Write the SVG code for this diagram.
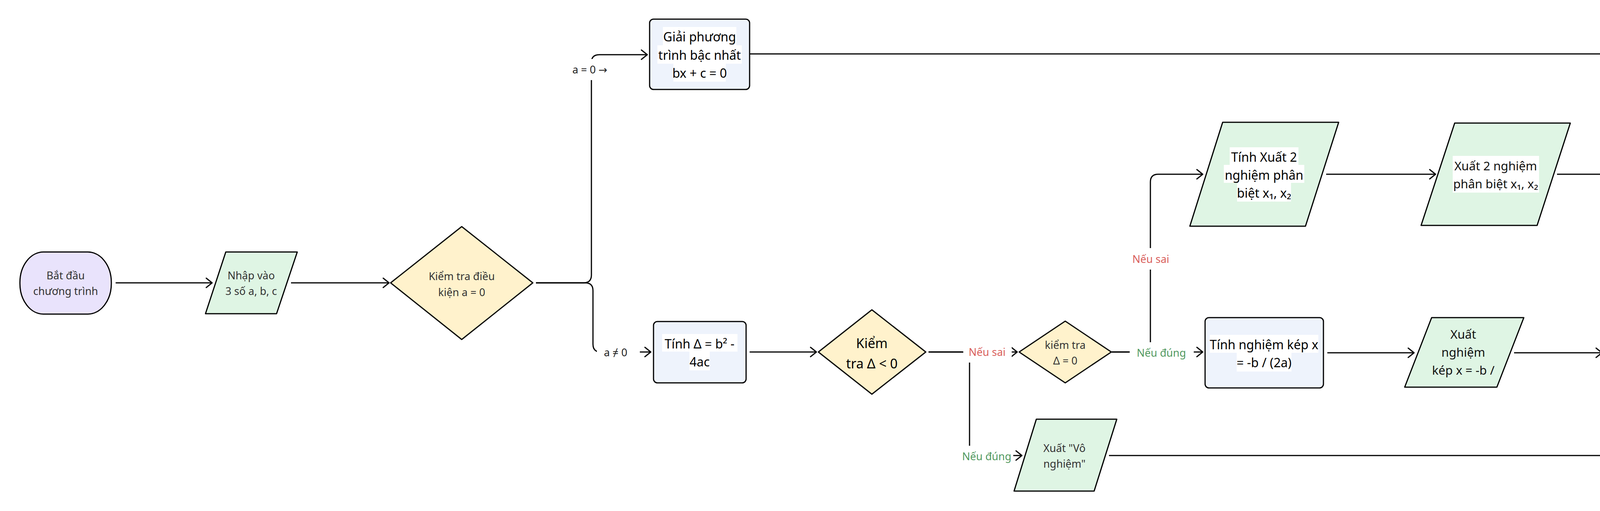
<svg xmlns="http://www.w3.org/2000/svg" width="4394" height="1308" viewBox="0 0 4394 1308">
<defs>
<style>
.sh{stroke:#000;stroke-width:3;stroke-linejoin:round}
.term{fill:#e9e3fc}
.io{fill:#dff5e4}
.dec{fill:#fff2cc}
.proc{fill:#eef3fc}
.edge{fill:none;stroke:#000;stroke-width:3}
.t{font-family:"Noto Sans","Open Sans","DejaVu Sans",sans-serif;text-anchor:middle}
.s27{font-size:27px;fill:#333}
.s31{font-size:31px;fill:#111}
.s32{font-size:32px;fill:#000}
.s34{font-size:34px;fill:#000}
.bg{fill:#fff}
.red{fill:#d95f5c}
.green{fill:#52995f}
.lab{fill:#222}
</style>
<marker id="ah" viewBox="0 0 20 30" refX="18" refY="15" markerWidth="20" markerHeight="30" orient="auto" markerUnits="userSpaceOnUse">
<path d="M3,3 L18,15 L3,27" fill="none" stroke="#000" stroke-width="3" stroke-linecap="round" stroke-linejoin="round"/>
</marker>
</defs>
<rect width="4394" height="1308" fill="#fff"/>

<g id="connectors">
<path class="edge" d="M296,724 L543,724" marker-end="url(#ah)"/>
<path class="edge" d="M745,724 L996,724" marker-end="url(#ah)"/>
<path class="edge" d="M1372,724 L1494,724 Q1514,724 1514,704 L1514,160 Q1514,140 1534,140 L1657,140" marker-end="url(#ah)"/>
<path class="edge" d="M1372,724 L1498,724 Q1518,724 1518,744 L1518,881 Q1518,901 1538,901 L1666,901" marker-end="url(#ah)"/>
<path class="edge" d="M1919,138 L4206,138 Q4226,138 4226,158 L4226,820" marker-end="url(#ah)"/>
<path class="edge" d="M1919,901 L2090,901" marker-end="url(#ah)"/>
<path class="edge" d="M2377,901 L2604,901" marker-end="url(#ah)"/>
<path class="edge" d="M2377,901 L2462,901 Q2482,901 2482,921 L2482,1146 Q2482,1166 2502,1166 L2616,1166" marker-end="url(#ah)"/>
<path class="edge" d="M2839,1166 L4206,1166 Q4226,1166 4226,1146 L4226,986" marker-end="url(#ah)"/>
<path class="edge" d="M2846,901 L2925,901 Q2945,901 2945,881 L2945,466 Q2945,446 2965,446 L3079,446" marker-end="url(#ah)"/>
<path class="edge" d="M2846,901 L3079,901" marker-end="url(#ah)"/>
<path class="edge" d="M3395,446 L3675,446" marker-end="url(#ah)"/>
<path class="edge" d="M3986,446 L4206,446 Q4226,446 4226,466 L4226,820" marker-end="url(#ah)"/>
<path class="edge" d="M3398,903 L3620,903" marker-end="url(#ah)"/>
<path class="edge" d="M3876,903 L4101,903" marker-end="url(#ah)"/>
</g>

<g id="edge-labels">
<rect class="bg" x="1450" y="151" width="120" height="54"/>
<text class="t s27 lab" x="1510" y="188">a = 0 →</text>
<rect class="bg" x="1528" y="875" width="110" height="54"/>
<text class="t s27 lab" x="1576" y="912">a ≠ 0</text>
<rect class="bg" x="2466" y="874" width="124" height="54"/>
<text class="t s27 red" x="2527" y="911">Nếu sai</text>
<rect class="bg" x="2458" y="1141" width="136" height="54"/>
<text class="t s27 green" x="2526" y="1178">Nếu đúng</text>
<rect class="bg" x="2890" y="635" width="112" height="55"/>
<text class="t s27 red" x="2946" y="673">Nếu sai</text>
<rect class="bg" x="2892" y="876" width="164" height="54"/>
<text class="t s27 green" x="2973" y="913">Nếu đúng</text>
</g>

<g id="start">
<rect class="sh term" x="51" y="645" width="234" height="159" rx="60" ry="78"/>
<text class="t s27" x="168" y="715">Bắt đầu</text>
<text class="t s27" x="168" y="755">chương trình</text>
</g>

<g id="input">
<polygon class="sh io" points="578,645 761,645 708,803 526,803"/>
<text class="t s27" x="643" y="715">Nhập vào</text>
<text class="t s27" x="643" y="755">3 số a, b, c</text>
</g>

<g id="check-a">
<polygon class="sh dec" points="1182,580 1364,724 1182,869 1000,724"/>
<text class="t s27" x="1182" y="717">Kiểm tra điều</text>
<text class="t s27" x="1182" y="758">kiện a = 0</text>
</g>

<g id="linear">
<rect class="sh proc" x="1663" y="49" width="256" height="180" rx="10"/>
<rect class="bg" x="1697" y="69" width="188" height="47"/>
<rect class="bg" x="1683" y="116" width="216" height="47"/>
<rect class="bg" x="1724" y="163" width="134" height="46"/>
<text class="t s32" x="1791" y="106">Giải phương</text>
<text class="t s32" x="1791" y="153">trình bậc nhất</text>
<text class="t s32" x="1791" y="199">bx + c = 0</text>
</g>

<g id="delta">
<rect class="sh proc" x="1673" y="823" width="237" height="157" rx="10"/>
<rect class="bg" x="1695" y="855" width="193" height="45"/>
<rect class="bg" x="1765" y="900" width="52" height="48"/>
<text class="t s32" x="1791" y="892">Tính Δ = b² -</text>
<text class="t s32" x="1791" y="938">4ac</text>
</g>

<g id="check-neg">
<polygon class="sh dec" points="2232,793 2370,901 2232,1009 2095,901"/>
<text class="t s34" x="2232" y="891">Kiểm</text>
<text class="t s34" x="2232" y="943">tra Δ &lt; 0</text>
</g>

<g id="check-zero">
<polygon class="sh dec" points="2727,822 2845,901 2727,980 2609,901"/>
<text class="t s27" x="2727" y="893">kiểm tra</text>
<text class="t s27" x="2727" y="933">Δ = 0</text>
</g>

<g id="no-root">
<polygon class="sh io" points="2653,1073 2859,1073 2801,1257 2596,1257"/>
<text class="t s27" x="2725" y="1157">Xuất "Vô</text>
<text class="t s27" x="2725" y="1197">nghiệm"</text>
</g>

<g id="two-roots-calc">
<polygon class="sh io" points="3130,313 3427,313 3342,579 3046,579"/>
<rect class="bg" x="3148" y="377" width="176" height="45"/>
<rect class="bg" x="3133" y="422" width="206" height="46"/>
<rect class="bg" x="3167" y="468" width="138" height="48"/>
<text class="t s32" x="3236" y="414">Tính Xuất 2</text>
<text class="t s32" x="3236" y="460">nghiệm phân</text>
<text class="t s32" x="3236" y="506">biệt x₁, x₂</text>
</g>

<g id="two-roots-out">
<polygon class="sh io" points="3724,315 4020,315 3935,577 3638,577"/>
<rect class="bg" x="3719" y="399" width="221" height="94"/>
<text class="t s31" x="3829" y="436">Xuất 2 nghiệm</text>
<text class="t s31" x="3829" y="482">phân biệt x₁, x₂</text>
</g>

<g id="double-root-calc">
<rect class="sh proc" x="3085" y="813" width="303" height="180" rx="10"/>
<rect class="bg" x="3097" y="857" width="278" height="46"/>
<rect class="bg" x="3166" y="903" width="140" height="48"/>
<text class="t s32" x="3236" y="894">Tính nghiệm kép x</text>
<text class="t s32" x="3236" y="940">= -b / (2a)</text>
</g>

<g id="double-root-out">
<polygon class="sh io" points="3665,813 3901,813 3832,991 3596,991"/>
<text class="t s31" x="3746" y="867">Xuất</text>
<text class="t s31" x="3746" y="913">nghiệm</text>
<text class="t s31" x="3746" y="959">kép x = -b /</text>
</g>

<g id="end">
<rect class="sh term" x="4107" y="825" width="238" height="155" rx="75" ry="77"/>
<text class="t s27" x="4226" y="912">End</text>
</g>
</svg>
